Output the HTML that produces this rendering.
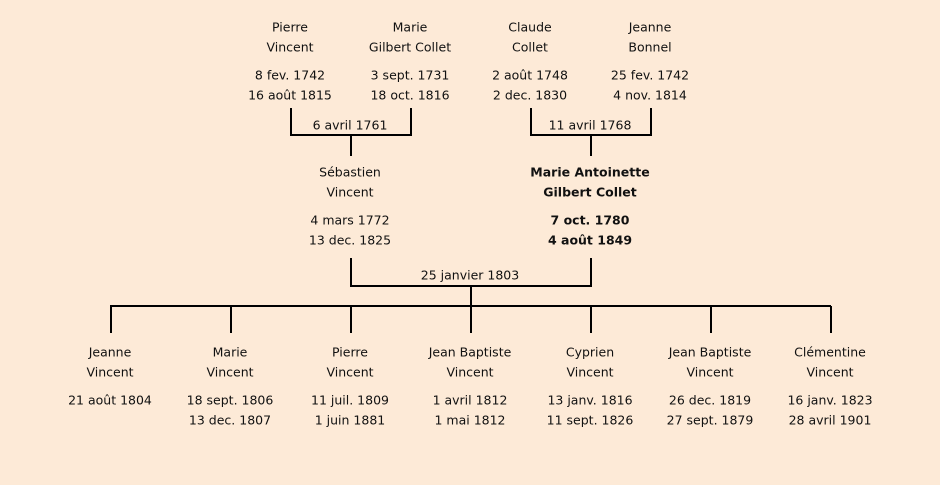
<!DOCTYPE html>
<html><head><meta charset="utf-8"><style>
html,body{margin:0;padding:0;background:#fdead7;}
svg{display:block}
text{font-family:"Comic Sans MS","DejaVu Sans",sans-serif;font-size:12.5px;fill:#111;text-anchor:middle;dominant-baseline:middle}
.b{font-weight:bold}
</style></head><body>
<svg width="940" height="485" viewBox="0 0 940 485">
<rect width="940" height="485" fill="#fdead7"/>
<g stroke="#000" stroke-width="2" fill="none">
<path d="M291 108V135H411V108M351 135V156"/>
<path d="M531 108V135H651V108M591 135V156"/>
<path d="M351 258V286H591V258M471 286V306"/>
<path d="M110 306H831M111 306V333M231 306V333M351 306V333M471 306V333M591 306V333M711 306V333M831 306V333"/>
</g>
<g transform="translate(0,1)">
<text x="290" y="27">Pierre</text><text x="290" y="47">Vincent</text><text x="290" y="75">8 fev. 1742</text><text x="290" y="95">16 août 1815</text>
<text x="410" y="27">Marie</text><text x="410" y="47">Gilbert Collet</text><text x="410" y="75">3 sept. 1731</text><text x="410" y="95">18 oct. 1816</text>
<text x="530" y="27">Claude</text><text x="530" y="47">Collet</text><text x="530" y="75">2 août 1748</text><text x="530" y="95">2 dec. 1830</text>
<text x="650" y="27">Jeanne</text><text x="650" y="47">Bonnel</text><text x="650" y="75">25 fev. 1742</text><text x="650" y="95">4 nov. 1814</text>
<text x="350" y="125">6 avril 1761</text><text x="590" y="125">11 avril 1768</text>
<text x="350" y="172">Sébastien</text><text x="350" y="192">Vincent</text><text x="350" y="220">4 mars 1772</text><text x="350" y="240">13 dec. 1825</text>
<text class="b" x="590" y="172">Marie Antoinette</text><text class="b" x="590" y="192">Gilbert Collet</text><text class="b" x="590" y="220">7 oct. 1780</text><text class="b" x="590" y="240">4 août 1849</text>
<text x="470" y="275">25 janvier 1803</text>
<text x="110" y="352">Jeanne</text><text x="110" y="372">Vincent</text><text x="110" y="400">21 août 1804</text>
<text x="230" y="352">Marie</text><text x="230" y="372">Vincent</text><text x="230" y="400">18 sept. 1806</text><text x="230" y="420">13 dec. 1807</text>
<text x="350" y="352">Pierre</text><text x="350" y="372">Vincent</text><text x="350" y="400">11 juil. 1809</text><text x="350" y="420">1 juin 1881</text>
<text x="470" y="352">Jean Baptiste</text><text x="470" y="372">Vincent</text><text x="470" y="400">1 avril 1812</text><text x="470" y="420">1 mai 1812</text>
<text x="590" y="352">Cyprien</text><text x="590" y="372">Vincent</text><text x="590" y="400">13 janv. 1816</text><text x="590" y="420">11 sept. 1826</text>
<text x="710" y="352">Jean Baptiste</text><text x="710" y="372">Vincent</text><text x="710" y="400">26 dec. 1819</text><text x="710" y="420">27 sept. 1879</text>
<text x="830" y="352">Clémentine</text><text x="830" y="372">Vincent</text><text x="830" y="400">16 janv. 1823</text><text x="830" y="420">28 avril 1901</text>
</g>
</svg>
</body></html>
